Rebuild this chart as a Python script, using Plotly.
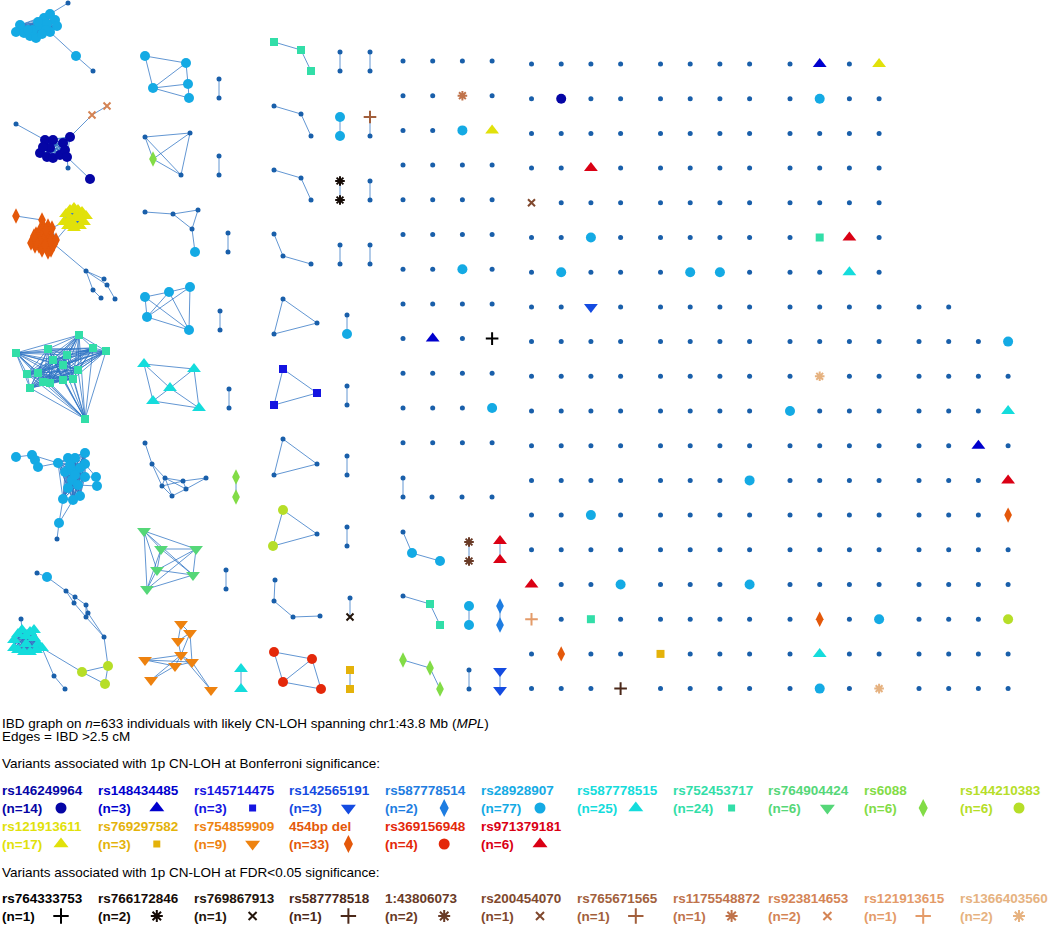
import plotly.graph_objects as go

# ---------------- variants (legend data) ----------------
variant_names = ['rs146249964', 'rs148434485', 'rs145714475', 'rs142565191', 'rs587778514',
                 'rs28928907', 'rs587778515', 'rs752453717', 'rs764904424', 'rs6088',
                 'rs144210383', 'rs121913611', 'rs769297582', 'rs754859909', '454bp del',
                 'rs369156948', 'rs971379181',
                 'rs764333753', 'rs766172846', 'rs769867913', 'rs587778518', '1:43806073',
                 'rs200454070', 'rs765671565', 'rs1175548872', 'rs923814653', 'rs121913615',
                 'rs1366403560']
variant_counts = [14, 3, 3, 3, 2, 77, 25, 24, 6, 6, 6, 17, 3, 9, 33, 4, 6,
                  1, 2, 1, 1, 2, 1, 1, 1, 2, 1, 2]
variant_symbols = ['circle', 'triangle-up', 'square', 'triangle-down', 'diamond-tall',
                   'circle', 'triangle-up', 'square', 'triangle-down', 'diamond-tall',
                   'circle', 'triangle-up', 'square', 'triangle-down', 'diamond-tall',
                   'circle', 'triangle-up',
                   'cross-thin-open', 'asterisk-open', 'x-thin-open', 'cross-thin-open',
                   'asterisk-open', 'x-thin-open', 'cross-thin-open', 'asterisk-open',
                   'x-thin-open', 'cross-thin-open', 'asterisk-open']
variant_colors = ['rgb(5,5,165)', 'rgb(0,0,205)', 'rgb(20,20,225)', 'rgb(20,75,225)',
                  'rgb(30,125,225)', 'rgb(20,170,228)', 'rgb(20,220,220)', 'rgb(50,222,168)',
                  'rgb(85,215,120)', 'rgb(130,220,70)', 'rgb(182,222,40)', 'rgb(225,225,10)',
                  'rgb(228,178,10)', 'rgb(238,130,15)', 'rgb(228,88,10)', 'rgb(228,40,10)',
                  'rgb(218,0,20)',
                  'rgb(0,0,0)', 'rgb(20,10,5)', 'rgb(35,20,10)', 'rgb(75,40,25)',
                  'rgb(105,58,38)', 'rgb(128,72,45)', 'rgb(162,95,60)', 'rgb(192,115,75)',
                  'rgb(212,132,85)', 'rgb(228,155,105)', 'rgb(230,178,128)']
legend_rows = [list(range(0, 11)), list(range(11, 17)), list(range(17, 28))]

PLAIN = 'rgb(25,95,170)'
EDGE = 'rgba(45,115,195,0.75)'

# ---------------- IBD components (layout positions, variant code; 0 = no variant) ----------------
# each component: nodes (x, y, code), edges (i, j), cliques (start, end) fully connected ranges
components = [
    # large cyan cluster, top-left
    dict(nodes=[(68, 3, 0), (20, 25, 6), (16, 32, 6), (24, 33, 6), (30, 36, 6), (36, 38, 6),
                (33, 30, 6), (40, 26, 6), (44, 18, 6), (50, 14, 6), (55, 20, 6), (57, 26, 6),
                (47, 24, 6), (50, 32, 6), (38, 22, 6), (46, 30, 6), (42, 34, 6), (28, 30, 6),
                (76, 56, 6), (93, 71, 0)],
         edges=[(0, 9), (13, 18), (18, 19)], cliques=[(1, 17)]),
    # dark blue cluster
    dict(nodes=[(16, 124, 0), (45, 140, 1), (53, 140, 1), (63, 143, 1), (40, 153, 1), (47, 157, 1),
                (53, 158, 1), (60, 155, 1), (65, 150, 1), (67, 157, 1), (50, 148, 1), (43, 147, 1),
                (70, 137, 1), (90, 179, 1), (68, 168, 0), (92, 115, 26), (107, 106, 26)],
         edges=[(0, 1), (12, 15), (15, 16), (9, 14), (9, 13)], cliques=[(1, 12)]),
    # 454bp del + rs121913611 cluster
    dict(nodes=[(16, 216, 15), (42, 220, 15),
                (33, 240, 15), (36, 234, 15), (40, 230, 15), (44, 228, 15), (48, 226, 15),
                (50, 232, 15), (52, 238, 15), (54, 244, 15), (51, 250, 15), (47, 247, 15),
                (43, 244, 15), (39, 246, 15), (35, 246, 15), (31, 243, 15), (38, 238, 15),
                (42, 236, 15), (46, 236, 15), (50, 242, 15), (44, 240, 15), (40, 242, 15),
                (36, 242, 15), (46, 230, 15), (42, 250, 15), (48, 252, 15), (52, 228, 15),
                (34, 236, 15), (56, 240, 15), (45, 245, 15),
                (66, 214, 12), (70, 210, 12), (74, 208, 12), (78, 210, 12), (82, 212, 12),
                (86, 216, 12), (84, 222, 12), (80, 226, 12), (74, 228, 12), (68, 226, 12),
                (64, 222, 12), (70, 218, 12), (76, 216, 12), (80, 218, 12), (72, 222, 12),
                (86, 271, 0), (104, 279, 0), (107, 285, 0), (115, 299, 0), (93, 290, 0),
                (101, 298, 0)],
         edges=[(0, 1), (1, 5), (26, 40), (28, 39), (9, 45), (45, 46), (45, 47), (47, 48),
                (45, 49), (49, 50)],
         cliques=[(2, 29), (30, 44)]),
    # rs752453717 mesh
    dict(nodes=[(79, 335, 8), (16, 353, 8), (48, 349, 8), (67, 355, 8), (53, 360, 8), (93, 348, 8),
                (106, 351, 8), (63, 365, 8), (27, 374, 8), (38, 373, 8), (43, 382, 8), (50, 383, 8),
                (63, 380, 8), (73, 379, 8), (78, 370, 8), (30, 388, 8), (85, 419, 8)],
         edges=[], cliques=[(0, 16)]),
    # second cyan cluster
    dict(nodes=[(16, 457, 6), (32, 455, 6), (35, 460, 6), (38, 467, 6),
                (58, 463, 6), (68, 458, 6), (75, 458, 6), (85, 453, 6), (85, 464, 6), (65, 472, 6),
                (72, 470, 6), (80, 468, 6), (85, 477, 6), (72, 480, 6), (78, 485, 6), (68, 488, 6),
                (70, 465, 6), (75, 475, 6), (80, 496, 6), (73, 500, 6), (63, 499, 6),
                (96, 477, 6), (97, 486, 6), (59, 523, 6), (57, 539, 0)],
         edges=[(0, 1), (1, 2), (2, 3), (1, 4), (3, 4), (12, 21), (8, 21), (21, 22), (14, 22),
                (20, 23), (19, 23), (23, 24)],
         cliques=[(4, 20)]),
    # chain with rs587778515 triangles and rs144210383
    dict(nodes=[(37, 573, 0), (47, 577, 6), (66, 591, 0), (75, 597, 0), (74, 603, 0), (86, 605, 0),
                (88, 613, 0), (86, 617, 0), (104, 637, 0), (108, 666, 11), (82, 672, 11),
                (105, 684, 11), (21, 619, 0), (54, 676, 0), (65, 689, 0),
                (14, 640, 7), (18, 634, 7), (22, 630, 7), (26, 636, 7), (30, 632, 7), (34, 638, 7),
                (38, 644, 7), (42, 648, 7), (36, 650, 7), (30, 652, 7), (24, 652, 7), (18, 650, 7),
                (14, 648, 7), (26, 644, 7), (34, 630, 7)],
         edges=[(0, 1), (1, 2), (2, 3), (2, 4), (3, 4), (3, 5), (4, 7), (5, 6), (5, 7), (6, 8),
                (7, 8), (8, 9), (9, 10), (9, 11), (10, 11), (10, 22), (12, 17), (22, 13), (13, 14)],
         cliques=[(15, 29)]),
    # second column
    dict(nodes=[(145, 56, 6), (186, 63, 6), (188, 84, 6), (153, 88, 6), (189, 98, 6)],
         edges=[(0, 1), (0, 3), (1, 3), (1, 2), (3, 2), (3, 4), (2, 4)], cliques=[]),
    dict(nodes=[(145, 137, 0), (190, 133, 0), (153, 159, 10), (181, 175, 0)],
         edges=[], cliques=[(0, 3)]),
    dict(nodes=[(145, 212, 0), (173, 214, 0), (198, 210, 0), (192, 229, 0), (195, 252, 6)],
         edges=[(0, 1), (1, 2), (1, 3), (2, 3), (3, 4)], cliques=[]),
    dict(nodes=[(145, 297, 6), (169, 292, 6), (190, 287, 6), (147, 317, 6), (189, 330, 6)],
         edges=[(0, 1), (1, 2), (0, 3), (0, 4), (1, 3), (1, 4), (2, 3), (2, 4), (3, 4)], cliques=[]),
    dict(nodes=[(144, 364, 7), (194, 369, 7), (170, 388, 7), (153, 401, 7), (199, 408, 7)],
         edges=[(0, 1), (0, 2), (2, 4), (1, 2), (2, 3), (3, 4), (1, 4), (0, 3)], cliques=[]),
    dict(nodes=[(145, 443, 0), (152, 464, 0), (165, 478, 0), (183, 481, 0), (206, 478, 0),
                (162, 486, 0), (186, 489, 0), (172, 496, 0)],
         edges=[(0, 1), (1, 2), (1, 5), (2, 3), (2, 7), (5, 7), (5, 3), (3, 6), (3, 4), (6, 4),
                (7, 6), (2, 6), (5, 2)], cliques=[]),
    dict(nodes=[(144, 531, 9), (161, 549, 9), (196, 549, 9), (157, 570, 9), (193, 575, 9),
                (147, 589, 9)],
         edges=[], cliques=[(0, 5)]),
    dict(nodes=[(181, 624, 14), (190, 633, 14), (178, 641, 14), (181, 655, 14), (192, 662, 14),
                (175, 666, 14), (145, 660, 14), (151, 680, 14), (211, 690, 14)],
         edges=[(0, 1), (0, 2), (1, 2), (2, 3), (1, 4), (3, 4), (5, 4), (6, 5), (6, 3), (7, 5),
                (7, 3), (4, 8), (3, 8), (1, 3), (6, 4), (5, 3)], cliques=[]),
    # fourth column
    dict(nodes=[(274, 42, 8), (301, 50, 8), (311, 71, 8)], edges=[(0, 1), (1, 2)], cliques=[]),
    dict(nodes=[(274, 106, 0), (301, 114, 0), (311, 136, 0)], edges=[(0, 1), (1, 2)], cliques=[]),
    dict(nodes=[(274, 170, 0), (301, 178, 0), (311, 200, 0)], edges=[(0, 1), (1, 2)], cliques=[]),
    dict(nodes=[(274, 234, 0), (283, 256, 0), (311, 264, 0)], edges=[(0, 1), (1, 2)], cliques=[]),
    dict(nodes=[(283, 299, 0), (317, 323, 0), (274, 334, 0)], edges=[], cliques=[(0, 2)]),
    dict(nodes=[(283, 369, 3), (317, 393, 3), (274, 405, 3)], edges=[], cliques=[(0, 2)]),
    dict(nodes=[(283, 439, 0), (317, 464, 0), (274, 475, 0)], edges=[], cliques=[(0, 2)]),
    dict(nodes=[(283, 510, 11), (317, 534, 0), (273, 546, 11)], edges=[], cliques=[(0, 2)]),
    dict(nodes=[(275, 580, 0), (274, 601, 0), (293, 617, 0), (320, 616, 0)],
         edges=[(0, 1), (1, 2), (2, 3)], cliques=[]),
    dict(nodes=[(274, 652, 16), (312, 659, 16), (283, 682, 16), (321, 689, 16)],
         edges=[(0, 1), (0, 2), (1, 2), (1, 3), (2, 3)], cliques=[]),
    # lower middle
    dict(nodes=[(403, 532, 0), (412, 553, 6), (440, 561, 6)], edges=[(0, 1), (1, 2)], cliques=[]),
    dict(nodes=[(403, 596, 0), (430, 604, 8), (440, 625, 8)], edges=[(0, 1), (1, 2)], cliques=[]),
    dict(nodes=[(403, 660, 10), (430, 668, 10), (440, 689, 10)], edges=[(0, 1), (1, 2)], cliques=[]),
]

# pairs: (x, y_top, y_bottom, code_top, code_bottom)
pairs = [(219, 79, 98, 0, 0), (219, 156, 175, 0, 0), (228, 233, 252, 0, 0), (220, 311, 330, 0, 0),
         (229, 389, 408, 0, 0), (236, 477, 497, 10, 10), (226, 570, 589, 0, 0), (241, 669, 689, 7, 7),
         (340, 52, 71, 0, 0), (340, 117, 136, 6, 6), (340, 181, 200, 19, 19), (340, 245, 264, 0, 0),
         (347, 315, 334, 0, 6), (347, 386, 405, 0, 0), (347, 456, 475, 0, 0), (347, 527, 546, 0, 0),
         (350, 598, 617, 0, 20), (350, 670, 689, 13, 13),
         (370, 52, 71, 0, 0), (370, 117, 136, 24, 0), (370, 181, 200, 0, 0), (370, 245, 264, 0, 0),
         (403, 478, 497, 0, 0), (469, 542, 561, 22, 22), (500, 541, 560, 17, 17),
         (469, 606, 625, 6, 6), (500, 606, 625, 5, 5), (469, 670, 689, 0, 0), (500, 671, 690, 4, 4)]

# isolated individuals beside the last pair of block A
extra_singles = [(432, 497, 0), (462, 497, 0), (492, 497, 0)]

# singleton grid blocks: rows of 4 variant codes (None = empty cell)
block_a = [[0, 0, 0, 0], [0, 0, 25, 0], [0, 0, 6, 12], [0, 0, 0, 0], [0, 0, 0, 0], [0, 0, 0, 0],
           [0, 0, 6, 0], [0, 0, 0, 0], [0, 2, 0, 18], [0, 0, 0, 0], [0, 0, 0, 6], [0, 0, 0, 0]]
block_b = [[0, 0, 0, 0], [0, 1, 0, 0], [0, 0, 0, 0], [0, 0, 17, 0], [23, 0, 0, 0], [0, 0, 6, 0],
           [0, 6, 0, 0], [0, 0, 4, 0], [0, 0, 0, 0], [0, 0, 0, 0], [0, 0, 0, 0], [0, 0, 0, 0],
           [0, 0, 0, 0], [0, 0, 6, 0], [0, 0, 0, 0], [17, 0, 0, 6], [27, 0, 8, 0], [0, 15, 0, 0],
           [0, 0, 0, 21]]
block_c = [[0, 0, 0, 0], [0, 0, 0, 0], [0, 0, 0, 0], [0, 0, 0, 0], [0, 0, 0, 0], [0, 0, 0, 0],
           [0, 6, 6, 0], [0, 0, 0, 0], [0, 0, 0, 0], [0, 0, 0, 0], [0, 0, 0, 0], [0, 0, 0, 0],
           [0, 0, 0, 6], [0, 0, 0, 0], [0, 0, 0, 0], [0, 0, 0, 6], [0, 0, 0, 0], [13, 0, 0, 0],
           [0, 0, 0, 0]]
block_d = [[0, 2, 0, 12], [0, 6, 0, 0], [0, 0, 0, 0], [0, 0, 0, 0], [0, 0, 0, 0], [0, 8, 17, 0],
           [0, 0, 7, 0], [0, 0, 0, 0], [0, 0, 0, 0], [0, 28, 0, 0], [6, 0, 0, 0], [0, 0, 0, 0],
           [0, 0, 0, 0], [0, 0, 0, 0], [0, 0, 0, 0], [0, 0, 0, 0], [0, 15, 0, 6], [0, 7, 0, 0],
           [0, 6, 0, 28]]
block_e = [[0, 0, None, None], [0, 0, 0, 6], [0, 0, 0, 0], [0, 0, 0, 7], [0, 0, 2, 0],
           [0, 0, 0, 17], [0, 0, 0, 15], [0, 0, 0, 0], [0, 0, 0, 0], [0, 0, 0, 11],
           [0, 0, 0, 0], [0, 0, 0, 0]]

blocks = [block_a, block_b, block_c, block_d, block_e]
block_x0 = [403, 531.5, 660.5, 790, 919]
block_y0 = [61, 64, 64, 64, 64 + 7 * 34.7]
cell_dx, cell_dy = 29.7, 34.7

# ---------------- collect nodes and edges ----------------
nodes = []      # (x, y, code)
edge_x, edge_y = [], []


def add_edge(a, b):
    edge_x.extend([a[0], b[0], None])
    edge_y.extend([a[1], b[1], None])


for comp in components:
    pts = comp['nodes']
    nodes.extend(pts)
    for i, j in comp['edges']:
        add_edge(pts[i], pts[j])
    for s, e in comp['cliques']:
        for i in range(s, e + 1):
            for j in range(i + 1, e + 1):
                add_edge(pts[i], pts[j])

for x, y1, y2, c1, c2 in pairs:
    nodes.append((x, y1, c1))
    nodes.append((x, y2, c2))
    add_edge((x, y1), (x, y2))

nodes.extend(extra_singles)

for b, rows in enumerate(blocks):
    for r, row in enumerate(rows):
        for c, code in enumerate(row):
            if code is None:
                continue
            nodes.append((block_x0[b] + c * cell_dx, block_y0[b] + r * cell_dy, code))

fig = go.Figure()

fig.add_trace(go.Scatter(x=edge_x, y=edge_y, mode='lines', hoverinfo='skip',
                         line=dict(color=EDGE, width=1)))

plain = [n for n in nodes if n[2] == 0]
fig.add_trace(go.Scatter(x=[n[0] for n in plain], y=[n[1] for n in plain], mode='markers',
                         marker=dict(size=5, color=PLAIN, opacity=1, line=dict(width=0))))

size_by_symbol = {'circle': 10, 'triangle-up': 12, 'square': 8, 'triangle-down': 12,
                  'diamond-tall': 11, 'cross-thin-open': 9, 'asterisk-open': 8, 'x-thin-open': 7}

for k in range(len(variant_names)):
    pts = [n for n in nodes if n[2] == k + 1]
    if not pts:
        continue
    sym = variant_symbols[k]
    open_sym = sym.endswith('open')
    fig.add_trace(go.Scatter(
        x=[n[0] for n in pts], y=[n[1] for n in pts], mode='markers',
        marker=dict(symbol=sym, size=size_by_symbol[sym], color=variant_colors[k], opacity=1,
                    line=dict(width=2 if open_sym else 0, color=variant_colors[k]))))

# ---------------- legend text ----------------
FONT = 'Arial, Liberation Sans, sans-serif'
ann = []


def text(x, y, s, size=13.5, color='black'):
    ann.append(dict(x=x, y=y, xref='x', yref='y', text=s, showarrow=False, xanchor='left',
                    yanchor='middle', font=dict(size=size, color=color, family=FONT)))


text(0, 723, 'IBD graph on <i>n</i>=633 individuals with likely CN-LOH spanning chr1:43.8 Mb (<i>MPL</i>)')
text(0, 736, 'Edges = IBD >2.5 cM')
text(0, 763, 'Variants associated with 1p CN-LOH at Bonferroni significance:')
text(0, 872, 'Variants associated with 1p CN-LOH at FDR<0.05 significance:')

row_y = [790, 826, 898]
col_w = 95.8
leg_x, leg_y, leg_k = [], [], []
for r, idx in enumerate(legend_rows):
    for c, k in enumerate(idx):
        x0 = c * col_w
        text(x0, row_y[r], '<b>%s</b>' % variant_names[k], color=variant_colors[k])
        text(x0, row_y[r] + 18, '<b>(n=%d)</b>' % variant_counts[k], color=variant_colors[k])
        leg_x.append(x0 + 61)
        leg_y.append(row_y[r] + 18)
        leg_k.append(k)

leg_size = {'circle': 11, 'triangle-up': 13, 'square': 7, 'triangle-down': 13,
            'diamond-tall': 13, 'cross-thin-open': 11, 'asterisk-open': 10, 'x-thin-open': 8}
fig.add_trace(go.Scatter(
    x=leg_x, y=leg_y, mode='markers',
    marker=dict(symbol=[variant_symbols[k] for k in leg_k],
                size=[leg_size[variant_symbols[k]] for k in leg_k],
                color=[variant_colors[k] for k in leg_k], opacity=1,
                line=dict(width=[2 if variant_symbols[k].endswith('open') else 0 for k in leg_k],
                          color=[variant_colors[k] for k in leg_k]))))

fig.update_layout(
    width=1050, height=935, autosize=False,
    margin=dict(l=0, r=0, t=0, b=0),
    paper_bgcolor='white', plot_bgcolor='white',
    showlegend=False, annotations=ann,
    xaxis=dict(range=[0, 1050], visible=False, fixedrange=True),
    yaxis=dict(range=[935, 0], visible=False, fixedrange=True),
)

fig.write_html('out.html', config={'displayModeBar': False},
               post_script="document.body.style.margin='0';")
